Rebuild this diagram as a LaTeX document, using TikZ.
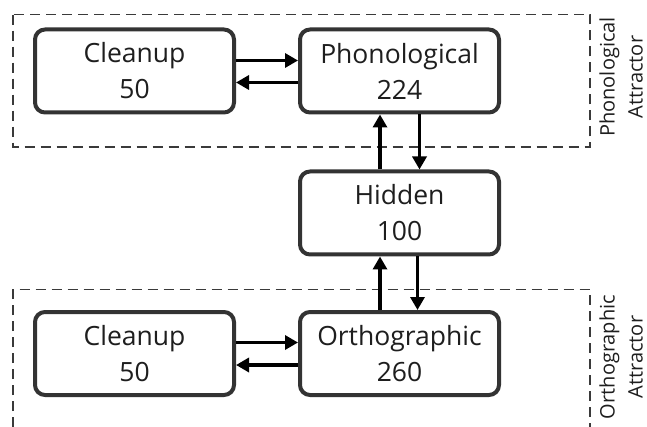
\documentclass[tikz,border=0pt]{standalone}
\usepackage{fontspec}
\setmainfont{Open Sans}
\usetikzlibrary{arrows.meta}
\definecolor{boxline}{HTML}{333333}
\definecolor{txt}{HTML}{1E1E1E}
\definecolor{dashc}{HTML}{3A3A3A}
\tikzset{
  unit/.style={draw=boxline, line width=4pt, rounded corners=10pt, fill=white,
    minimum width=199pt, minimum height=83pt, inner sep=0pt, align=center,
    text=txt, font=\fontsize{26.5}{36}\selectfont},
  conn/.style={draw=black, line width=3.8pt, -{Triangle[length=13pt,width=14pt]}},
  group/.style={draw=dashc, line width=1.3pt, dash pattern=on 10pt off 6pt},
  sidelabel/.style={rotate=90, align=center, text=txt, inner sep=0pt,
    font=\fontsize{20}{28}\selectfont}
}
\begin{document}
\begin{tikzpicture}[x=1pt,y=-1pt]
\useasboundingbox (0,0) rectangle (647,427);
% attractor groups
\draw[group] (13,14.7) rectangle (590,147);
\draw[group] (13,427) -- (13,289.5) -- (590,289.5) -- (590,427);
\node[sidelabel] (phlab) at (621,77) {Phonological\\Attractor};
\node[sidelabel] (orlab) at (621,357) {Orthographic\\Attractor};
% units
\node[unit] (cleanTop) at (134.5,71) {Cleanup\\50};
\node[unit] (phon) at (399.5,71) {Phonological\\224};
\node[unit] (hidden) at (399.5,213) {Hidden\\100};
\node[unit] (orth) at (399.5,353.5) {Orthographic\\260};
\node[unit] (cleanBot) at (134.5,353.5) {Cleanup\\50};
% connections
\draw[conn] ([yshift=10.5pt]cleanTop.east) -- ([yshift=10.5pt]phon.west);
\draw[conn] ([yshift=-11.5pt]phon.west) -- ([yshift=-11.5pt]cleanTop.east);
\draw[conn] ([xshift=-19.5pt]hidden.north) -- ([xshift=-19.5pt]phon.south);
\draw[conn] ([xshift=20pt]phon.south) -- ([xshift=20pt]hidden.north);
\draw[conn] ([xshift=-19.5pt]orth.north) -- ([xshift=-19.5pt]hidden.south);
\draw[conn] ([xshift=18pt]hidden.south) -- ([xshift=18pt]orth.north);
\draw[conn] ([yshift=11pt]cleanBot.east) -- ([yshift=11pt]orth.west);
\draw[conn] ([yshift=-11.5pt]orth.west) -- ([yshift=-11.5pt]cleanBot.east);
\end{tikzpicture}
\end{document}
